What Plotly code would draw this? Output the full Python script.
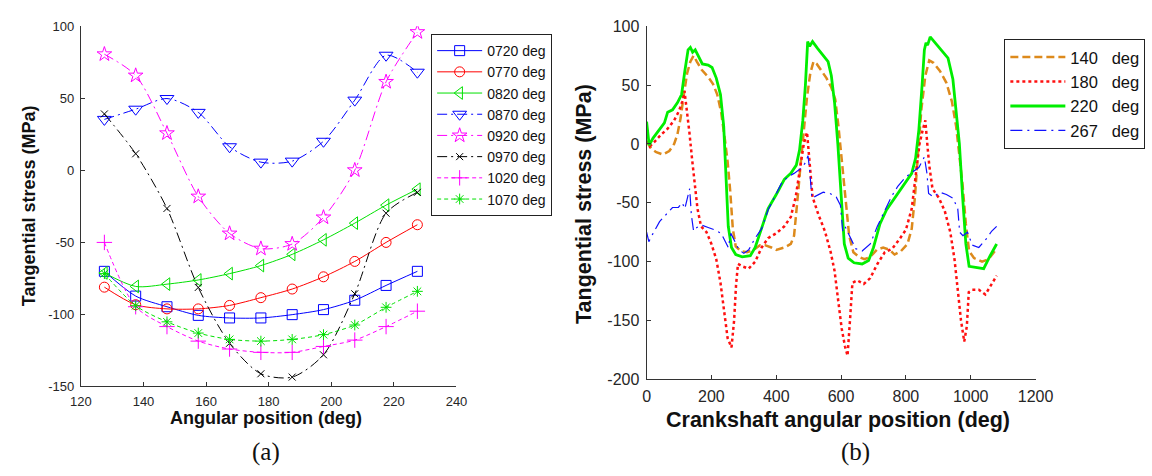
import plotly.graph_objects as go

# ---------------- (a) tangential stress vs angular position ----------------
ANGLE_A = [127.5, 137.5, 147.5, 157.5, 167.5, 177.5, 187.5, 197.5, 207.5, 217.5, 227.5]

S_0720 = [-70.3, -87.5, -94.9, -100.9, -102.7, -102.7, -100.4, -96.9, -90.4, -80.1, -70.3]
S_0770 = [-81.3, -93.5, -96.4, -96.4, -94.0, -88.6, -82.6, -74.1, -63.4, -50.2, -37.9]
S_0820 = [-71.4, -80.8, -79.2, -76.3, -71.9, -66.3, -58.5, -48.4, -36.8, -24.3, -13.2]
S_0870 = [35.3, 42.4, 49.8, 40.2, 16.3, 5.6, 6.3, 20.1, 48.7, 79.9, 68.1]
S_0920 = [80.6, 65.8, 25.7, -18.3, -44.0, -54.5, -51.3, -32.8, 0.0, 61.4, 96.0]
S_0970 = [39.1, 11.4, -26.6, -81.5, -120.3, -141.5, -143.8, -128.3, -85.9, -29.9, -15.4]
S_1020 = [-50.2, -94.9, -108.7, -118.8, -124.3, -126.6, -126.6, -122.5, -118.1, -108.7, -98.0]
S_1070 = [-71.9, -94.2, -105.4, -113.2, -117.6, -118.8, -117.6, -114.3, -107.6, -95.3, -84.2]

NAMES_A = ["0720 deg", "0770 deg", "0820 deg", "0870 deg",
           "0920 deg", "0970 deg", "1020 deg", "1070 deg"]

XTICKS_A = [120, 140, 160, 180, 200, 220, 240]
XTEXT_A = ["120", "140", "160", "180", "200", "220", "240"]
YTICKS_A = [-150, -100, -50, 0, 50, 100]
YTEXT_A = ["-150", "-100", "-50", "0", "50", "100"]

# ---------------- (b) tangential stress vs crankshaft angle ----------------
DEG_140 = [0, 15, 30, 50, 70, 85, 95, 105, 115, 125, 135, 145, 155, 170, 190, 205, 218,
           230, 242, 250, 258, 266, 275, 290, 310, 330, 350, 365, 385, 400, 425, 445,
           455, 462, 468, 475, 485, 495, 505, 515, 525, 540, 555, 570, 582, 592, 602,
           612, 625, 638, 655, 672, 690, 710, 730, 750, 765, 785, 805, 818, 828, 838,
           848, 860, 872, 885, 905, 925, 942, 955, 965, 975, 985, 995, 1010, 1035,
           1055, 1070, 1080]
S_140 = [2, -4, -7, -9, -6, 0, 8, 22, 42, 60, 70, 75, 70, 63, 57, 51, 42,
         27, 3, -15, -40, -72, -87, -91, -92, -90, -86, -86, -88, -90, -88, -85,
         -78, -60, -40, -18, 10, 40, 60, 70, 68, 62, 56, 48, 38, 15, -15,
         -45, -78, -92, -96, -98, -96, -90, -88, -90, -94, -91, -85, -72, -45, -5,
         30, 58, 71, 69, 62, 52, 36, 15, -8, -35, -68, -91, -97, -100,
         -98, -93, -89]

DEG_180 = [0, 10, 25, 45, 65, 85, 100, 110, 117, 124, 132, 140, 148, 157, 168, 185,
           200, 215, 228, 240, 250, 262, 270, 276, 282, 295, 315, 335, 355, 375, 400,
           425, 445, 460, 472, 485, 495, 502, 512, 530, 550, 568, 580, 592, 602, 612,
           620, 628, 635, 650, 670, 690, 712, 735, 758, 780, 800, 818, 830, 842, 852,
           860, 866, 872, 882, 902, 920, 937, 950, 960, 970, 980, 988, 994, 1005,
           1025, 1045, 1065, 1080]
S_180 = [8, -2, 2, 8, 13, 20, 28, 36, 45, 30, 10, -12, -35, -55, -70, -75,
         -85, -98, -118, -142, -165, -173, -150, -120, -102, -104, -106, -100, -88, -80, -76,
         -70, -62, -45, -22, 0, 10, -10, -45, -60, -74, -92, -108, -135, -157, -172,
         -180, -148, -118, -116, -119, -114, -102, -92, -89, -81, -73, -55, -25, 0, 12,
         20, 0, -18, -38, -46, -57, -75, -98, -122, -150, -168, -155, -126, -124,
         -124, -128, -119, -112]

DEG_220 = [0, 8, 20, 40, 55, 65, 80, 95, 108, 118, 128, 135, 142, 150, 160, 172, 190,
           202, 215, 228, 238, 245, 252, 262, 275, 295, 320, 335, 355, 375, 400, 425,
           445, 462, 472, 482, 490, 497, 503, 512, 528, 545, 560, 570, 580, 590, 600,
           610, 622, 640, 665, 685, 700, 720, 740, 760, 780, 800, 818, 830, 840, 850,
           857, 862, 867, 875, 890, 910, 930, 945, 955, 965, 975, 985, 995, 1015,
           1040, 1060, 1080]
S_220 = [19, -1, 5, 12, 18, 27, 29, 35, 42, 62, 80, 82, 78, 80, 74, 68, 67,
         65, 56, 42, 15, -35, -70, -88, -94, -96, -95, -88, -72, -55, -43, -30,
         -25, -18, -5, 20, 50, 87, 83, 87, 81, 75, 70, 58, 35, 0, -45,
         -85, -97, -101, -102, -99, -88, -68, -56, -48, -40, -33, -25, -12, 12, 50,
         80, 86, 84, 91, 86, 79, 73, 55, 30, 0, -45, -85, -104, -105,
         -106, -95, -85]

DEG_267 = [0, 7, 20, 40, 60, 80, 98, 110, 118, 128, 133, 138, 145, 155, 170, 190,
           210, 230, 245, 252, 260, 270, 285, 300, 315, 335, 355, 375, 395, 415, 435,
           455, 475, 490, 498, 503, 510, 525, 545, 565, 585, 598, 605, 612, 625, 645,
           665, 690, 712, 735, 755, 775, 800, 820, 840, 857, 865, 870, 885, 905, 925,
           945, 960, 966, 976, 990, 1005, 1025, 1050, 1065, 1080]
S_267 = [-75, -83, -76, -66, -60, -54, -54, -50, -55, -42, -38, -60, -74, -71, -69, -71,
         -73, -76, -84, -88, -76, -82, -90, -93, -90, -80, -72, -56, -45, -34, -28,
         -25, -21, -16, -10, -22, -46, -44, -41, -42, -45, -52, -74, -70, -78, -89,
         -91, -85, -70, -56, -45, -36, -28, -24, -20, -11, -25, -42, -45, -41, -43,
         -46, -55, -75, -78, -75, -86, -88, -80, -74, -70]

XTICKS_B = [0, 200, 400, 600, 800, 1000, 1200]
XTEXT_B = ["0", "200", "400", "600", "800", "1000", "1200"]
YTICKS_B = [-200, -150, -100, -50, 0, 50, 100]
YTEXT_B = ["-200", "-150", "-100", "-50", "0", "50", "100"]

# ---------------- figure ----------------
W, H = 1152, 476
SANS = "Liberation Sans, Arial, sans-serif"
SERIF = "Liberation Serif, Times New Roman, serif"
AXC = "#333333"

fig = go.Figure()

series_a = [S_0720, S_0770, S_0820, S_0870, S_0920, S_0970, S_1020, S_1070]
colors_a = ["#0000FF", "#FF0000", "#00E000", "#0000FF", "#FF00FF", "#000000", "#FF00FF", "#00E000"]
dashes_a = ["solid", "solid", "solid", "10px,4px,2px,4px", "10px,4px,2px,4px",
            "10px,4px,2px,4px", "4px,3px", "4px,3px"]
symbols_a = ["square-open", "circle-open", "triangle-left-open", "triangle-down-open",
             "star-open", "x-thin-open", "cross-thin-open", "asterisk-open"]
sizes_a = [10, 10, 11, 12, 11, 7, 11, 9]

for name, ys, c, d, sym, sz in zip(NAMES_A, series_a, colors_a, dashes_a, symbols_a, sizes_a):
    fig.add_trace(go.Scatter(
        x=ANGLE_A, y=ys, name=name, mode="lines+markers",
        line=dict(color=c, width=1, dash=d, shape="spline", smoothing=0.8),
        marker=dict(symbol=sym, size=sz, color=c, line=dict(color=c, width=1)),
        xaxis="x", yaxis="y", legend="legend",
    ))

GAP = "\u00a0\u00a0\u00a0"
series_b = [
    ("140" + GAP + "deg", DEG_140, S_140, "#DD8A1C", 2.5, "8px,4px"),
    ("180" + GAP + "deg", DEG_180, S_180, "#FF1010", 2.5, "3px,3px"),
    ("220" + GAP + "deg", DEG_220, S_220, "#00EE00", 2.8, "solid"),
    ("267" + GAP + "deg", DEG_267, S_267, "#1010FF", 1.2, "12px,5px,2px,5px"),
]
for name, xs, ys, c, w, d in series_b:
    fig.add_trace(go.Scatter(
        x=xs, y=ys, name=name, mode="lines",
        line=dict(color=c, width=w, dash=d),
        xaxis="x2", yaxis="y2", legend="legend2",
    ))


def axis(domain, rng, tickvals, ticktext, size, anchor):
    return dict(
        domain=domain, range=rng, anchor=anchor,
        tickmode="array", tickvals=tickvals, ticktext=ticktext,
        showline=True, linecolor=AXC, linewidth=1, mirror=False,
        ticks="inside", ticklen=4, tickcolor=AXC, tickwidth=1,
        showgrid=False, zeroline=False, ticklabelstandoff=3,
        tickfont=dict(family=SANS, size=size, color="#262626"),
    )


LX = [71.7 / W, 457 / W]
LY = [1 - 392 / H, 1 - 19 / H]
RX = [652 / W, 1051 / W]
RY = [1 - 385 / H, 1 - 19 / H]

fig.update_layout(
    width=W, height=H,
    margin=dict(l=0, r=0, t=0, b=0),
    paper_bgcolor="white", plot_bgcolor="rgba(0,0,0,0)",
    font=dict(family=SANS, color="#111111"),
    xaxis=axis(LX, [120, 240], XTICKS_A, XTEXT_A, 13, "y"),
    yaxis=axis(LY, [-150, 100], YTICKS_A, YTEXT_A, 13, "x"),
    xaxis2=axis(RX, [0, 1200], XTICKS_B, XTEXT_B, 16, "y2"),
    yaxis2=axis(RY, [-200, 100], YTICKS_B, YTEXT_B, 16, "x2"),
    legend=dict(
        x=431 / W, y=1 - 27 / H, xanchor="left", yanchor="top",
        bgcolor="white", bordercolor="#222222", borderwidth=1,
        font=dict(family=SANS, size=14, color="#111111"),
        tracegroupgap=0, itemwidth=45,
    ),
    legend2=dict(
        x=1019 / W, y=1 - 32 / H, xanchor="left", yanchor="top",
        bgcolor="white", bordercolor="#222222", borderwidth=1,
        font=dict(family=SANS, size=16.5, color="#111111"),
        tracegroupgap=0, itemwidth=55,
    ),
    showlegend=True,
)

# axis titles and panel captions
notes = [
    ("<b>Angular position (deg)</b>", 262, 425, 18, 0, SANS),
    ("<b>Tangential stress (MPa)</b>", 18, 205, 18, -90, SANS),
    ("<b>Crankshaft angular position (deg)</b>", 848, 427, 21.5, 0, SANS),
    ("<b>Tangential stress (MPa)</b>", 588, 203, 21.5, -90, SANS),
    ("(a)", 262, 460, 25, 0, SERIF),
    ("(b)", 866, 460, 25, 0, SERIF),
]
for text, px, py, size, ang, fam in notes:
    fig.add_annotation(
        text=text, x=px / W, y=1 - py / H, xref="paper", yref="paper",
        xanchor="center", yanchor="middle", showarrow=False, textangle=ang,
        font=dict(family=fam, size=size, color="#111111"),
    )

fig.write_html("out.html")
